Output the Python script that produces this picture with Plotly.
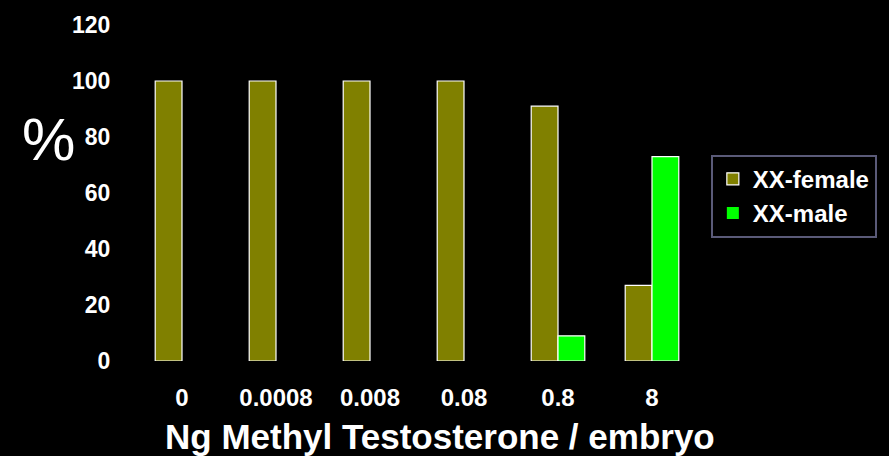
import plotly.graph_objects as go

categories = ["0", "0.0008", "0.008", "0.08", "0.8", "8"]
xx_female = [100, 100, 100, 100, 91, 27]
xx_male = [0, 0, 0, 0, 9, 73]
y_ticks = [0, 20, 40, 60, 80, 100, 120]

def outline_widths(vals):
    return [1.2 if v > 0 else 0 for v in vals]

fig = go.Figure()
fig.add_trace(go.Bar(name="<b>XX-female</b>", x=categories, y=xx_female,
                     marker=dict(color="#808000",
                                 line=dict(color="white", width=outline_widths(xx_female)))))
fig.add_trace(go.Bar(name="<b>XX-male</b>", x=categories, y=xx_male,
                     marker=dict(color="#00FF00",
                                 line=dict(color="white", width=outline_widths(xx_male)))))

font_fam = "Liberation Sans, Arial, sans-serif"
fig.update_layout(
    width=889, height=456,
    paper_bgcolor="black", plot_bgcolor="black",
    margin=dict(l=135, r=189, t=22, b=95),
    barmode="group", bargap=0.43, bargroupgap=0,
    font=dict(family=font_fam, color="white"),
    xaxis=dict(type="category", showgrid=False, showline=False, zeroline=False,
               ticks="outside", ticklen=15, tickcolor="black",
               tickfont=dict(size=24, color="white", family=font_fam, weight="bold")),
    yaxis=dict(range=[0, 120], tickvals=y_ticks, showgrid=False, showline=False,
               zeroline=False, ticks="outside", ticklen=19, tickcolor="black",
               tickfont=dict(size=23, color="white", family=font_fam, weight="bold")),
    legend=dict(x=1.021, y=0.614, xanchor="left", yanchor="top",
                bgcolor="black", bordercolor="#5a5a78", borderwidth=2,
                font=dict(size=24, color="white", family=font_fam),
                tracegroupgap=0, itemwidth=30),
    annotations=[
        dict(text="%", xref="paper", yref="paper", x=-0.154, y=0.66,
             xanchor="center", yanchor="middle", showarrow=False,
             font=dict(size=60, color="white", family=font_fam)),
        dict(text="<b>Ng Methyl Testosterone / embryo</b>", xref="paper", yref="paper",
             x=0.5416, y=-0.224, xanchor="center", yanchor="middle", showarrow=False,
             font=dict(size=35, color="white", family=font_fam)),
    ],
)
fig.write_html("out.html", config={"displayModeBar": False},
               post_script="document.body.style.margin='0';document.body.style.background='black';")
